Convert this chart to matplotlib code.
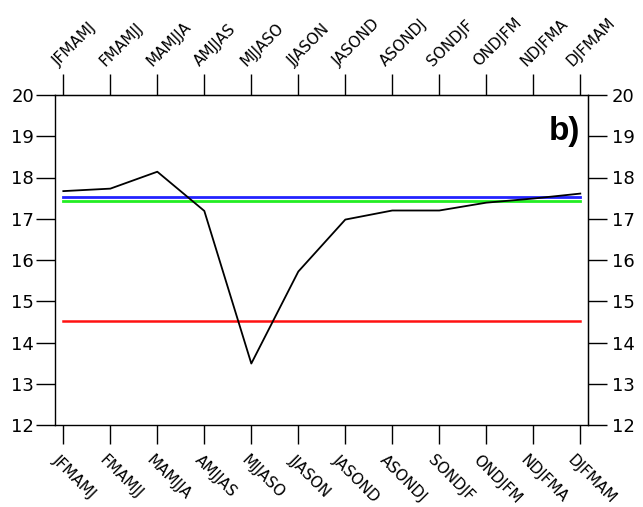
import matplotlib.pyplot as plt
import matplotlib.transforms as mtransforms

# 6-month running seasons
seasons = ["JFMAMJ", "FMAMJJ", "MAMJJA", "AMJJAS", "MJJASO", "JJASON",
           "JASOND", "ASONDJ", "SONDJF", "ONDJFM", "NDJFMA", "DJFMAM"]
series = [17.67, 17.73, 18.14, 17.19, 13.49, 15.72,
          16.98, 17.20, 17.20, 17.39, 17.49, 17.61]
blue_ref = 17.52
green_ref = 17.43
red_ref = 14.52

W, H = 643, 507
fig = plt.figure(figsize=(W / 100, H / 100), dpi=100)
ax = fig.add_axes([55 / W, 82 / H, 533 / W, 330 / H])

x = list(range(len(seasons)))
n = len(x)
ax.plot(x, [green_ref] * n, color="#22ee22", lw=2)
ax.plot(x, [blue_ref] * n, color="#2222ff", lw=2)
ax.plot(x, [red_ref] * n, color="#ff1111", lw=1.8)
ax.plot(x, series, color="black", lw=1.3)

ax.set_xlim(-0.177, 11.164)
ax.set_ylim(12, 20)
for s in ax.spines.values():
    s.set_linewidth(1.0)

# y axis, both sides
ax.set_yticks(range(12, 21))
ax.tick_params(axis="y", direction="out", length=14, width=1, labelsize=13, pad=1)
right = ax.secondary_yaxis("right")
right.set_yticks(range(12, 21))
right.tick_params(axis="y", direction="out", length=14, width=1, labelsize=13, pad=3)

# x axis, bottom and top with slanted labels
ax.set_xticks(x)
ax.set_xticklabels(seasons, rotation=-45, ha="center", va="top")
ax.tick_params(axis="x", direction="out", length=14, width=1, labelsize=11, pad=6)
top = ax.secondary_xaxis("top")
top.set_xticks(x)
top.set_xticklabels(seasons, rotation=45, ha="center", va="bottom")
top.tick_params(axis="x", direction="out", length=15, width=1, labelsize=11, pad=4)

shift = mtransforms.ScaledTranslation(8 / 72, 0, fig.dpi_scale_trans)
for lab in ax.get_xticklabels() + top.get_xticklabels():
    lab.set_transform(lab.get_transform() + shift)

fig.text(580 / W, 1 - 116 / H, "b)", ha="right", va="top", fontsize=24,
         fontweight="bold", family="Liberation Sans")

fig.savefig("out.png", dpi=100)
